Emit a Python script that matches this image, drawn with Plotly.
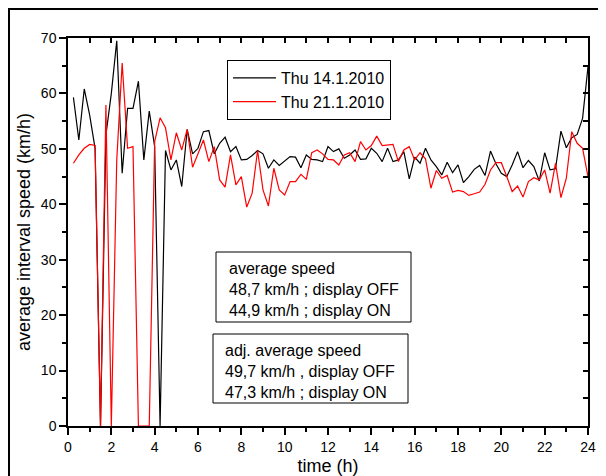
import plotly.graph_objects as go

hours = [i * 0.25 for i in range(1, 97)]

speed_thu_14 = [
    59.3, 51.6, 60.8, 56.1,
    50.1, 0.0, 52.5, 60.0,
    69.5, 45.6, 57.3, 57.3,
    62.2, 48.0, 56.8, 50.4,
    0.0, 49.7, 46.2, 48.0,
    43.2, 53.5, 49.1, 50.1,
    53.1, 53.3, 49.1, 51.0,
    52.1, 49.5, 50.4, 48.0,
    48.1, 48.8, 49.7, 49.1,
    46.5, 48.0, 47.0, 47.8,
    48.6, 48.5, 46.6, 48.9,
    48.1, 48.0, 47.7, 50.4,
    49.5, 50.0, 48.3, 48.9,
    49.8, 48.1, 48.2, 50.1,
    49.2, 47.7, 50.1, 47.7,
    48.0, 49.5, 44.6, 48.5,
    47.4, 50.1, 48.0, 46.8,
    45.3, 47.6, 45.7, 47.1,
    43.9, 45.0, 46.3, 47.0,
    45.2, 49.6, 47.3, 45.6,
    45.0, 47.1, 49.5, 46.6,
    47.9, 46.8, 44.2, 49.3,
    46.2, 46.4, 53.2, 50.2,
    52.0, 52.6, 55.5, 64.8,
]

speed_thu_21 = [
    47.4, 48.9, 50.1, 50.8,
    50.6, 0.0, 57.9, 0.0,
    48.0, 65.5, 50.1, 50.4,
    0.0, 0.0, 0.0, 51.3,
    55.6, 53.8, 48.0, 52.9,
    49.8, 53.5, 46.7, 49.1,
    51.6, 47.7, 50.4, 44.4,
    43.1, 48.9, 43.5, 45.0,
    39.5, 42.0, 49.7, 42.6,
    39.7, 46.5, 42.6, 41.7,
    44.1, 44.1, 45.4, 44.5,
    49.3, 49.8, 49.1, 48.1,
    48.0, 47.1, 48.9, 49.3,
    47.7, 51.3, 49.8, 50.6,
    52.3, 50.6, 50.7, 50.8,
    47.7, 49.8, 50.4, 48.0,
    49.3, 48.2, 42.9, 46.1,
    44.7, 45.2, 42.2, 42.5,
    42.3, 41.6, 41.9, 42.2,
    43.6, 46.2, 47.5, 47.5,
    45.0, 42.3, 43.3, 41.3,
    44.1, 44.8, 44.4, 46.2,
    42.0, 47.4, 41.2, 44.7,
    53.1, 51.0, 50.1, 45.0,
]

series_names = ["Thu 14.1.2010", "Thu 21.1.2010"]
box1_lines = ["average speed", "48,7 km/h ; display OFF", "44,9 km/h ; display ON"]
box2_lines = ["adj. average speed", "49,7 km/h , display OFF", "47,3 km/h ; display ON"]

FONT = "Liberation Sans, Arial, Helvetica, sans-serif"

fig = go.Figure()
fig.add_trace(go.Scatter(x=hours, y=speed_thu_14, mode="lines", name=series_names[0],
                         line=dict(color="black", width=1.2)))
fig.add_trace(go.Scatter(x=hours, y=speed_thu_21, mode="lines", name=series_names[1],
                         line=dict(color="#ff0000", width=1.2)))
# helper (empty) trace so the mirrored top/right axes are drawn
fig.add_trace(go.Scatter(x=[], y=[], xaxis="x2", yaxis="y2", showlegend=False, hoverinfo="skip"))

# the page body has an 8px margin, so the figure is 8px smaller than the window
BODY = 8
W, H = 606 - BODY, 476 - BODY
L, R, T, B = 68 - BODY, 18, 38 - BODY, 50
pw, ph = W - L - R, H - T - B
PLOT_LEFT = BODY + L          # page px
PLOT_BOTTOM = BODY + H - B    # page px


def px(x):
    return (x - PLOT_LEFT) / pw


def py(y):
    return (PLOT_BOTTOM - y) / ph


axis_common = dict(showline=True, linecolor="black", linewidth=1.5, showgrid=False, zeroline=False,
                   automargin=False,
                   tickcolor="black", tickwidth=1.5, tickfont=dict(family=FONT, size=14, color="black"))

fig.update_layout(
    width=W, height=H,
    margin=dict(l=L, r=R, t=T, b=B, autoexpand=False),
    paper_bgcolor="white", plot_bgcolor="white",
    font=dict(family=FONT, color="black"),
    xaxis=dict(range=[0, 24], dtick=2, tick0=0, ticks="outside", ticklen=7,
               minor=dict(dtick=1, ticks="outside", ticklen=4, tickcolor="black", tickwidth=1.5),
               title=dict(text="time (h)", font=dict(family=FONT, size=18), standoff=6),
               **axis_common),
    yaxis=dict(range=[0, 70], dtick=10, tick0=0, ticks="outside", ticklen=7,
               minor=dict(dtick=5, ticks="outside", ticklen=4, tickcolor="black", tickwidth=1.5),
               title=dict(text="average interval speed (km/h)", font=dict(family=FONT, size=18), standoff=6),
               **axis_common),
    xaxis2=dict(range=[0, 24], overlaying="x", side="top", showline=True, linecolor="black", linewidth=1.5,
                ticks="inside", dtick=1, ticklen=5, tickwidth=1.5, tickcolor="black", automargin=False,
                showticklabels=False, showgrid=False, zeroline=False),
    yaxis2=dict(range=[0, 70], overlaying="y", side="right", showline=True, linecolor="black", linewidth=1.5,
                ticks="inside", dtick=5, ticklen=5, tickwidth=1.5, tickcolor="black", automargin=False,
                showticklabels=False, showgrid=False, zeroline=False),
    legend=dict(x=px(227), y=py(60), xanchor="left", yanchor="top",
                bordercolor="black", borderwidth=1, bgcolor="white", itemwidth=43,
                font=dict(family=FONT, size=16, color="black"), tracegroupgap=0),
    showlegend=True,
)

shapes = [
    # outer frame
    dict(type="rect", xref="paper", yref="paper", x0=px(9), y0=py(500), x1=px(630), y1=py(9),
         line=dict(color="black", width=2), fillcolor="rgba(0,0,0,0)", layer="above"),
    dict(type="rect", xref="paper", yref="paper", x0=px(216), x1=px(411), y0=py(322), y1=py(252),
         line=dict(color="black", width=1), fillcolor="white", layer="above"),
    dict(type="rect", xref="paper", yref="paper", x0=px(213), x1=px(408), y0=py(403), y1=py(334),
         line=dict(color="black", width=1), fillcolor="white", layer="above"),
]
fig.update_layout(shapes=shapes)

fig.add_annotation(xref="paper", yref="paper", x=px(227), y=py(289), xanchor="left", yanchor="middle",
                   text="<br>".join(box1_lines), align="left", showarrow=False,
                   font=dict(family=FONT, size=16, color="black"))
fig.add_annotation(xref="paper", yref="paper", x=px(223), y=py(371), xanchor="left", yanchor="middle",
                   text="<br>".join(box2_lines), align="left", showarrow=False,
                   font=dict(family=FONT, size=16, color="black"))

fig.write_html("out.html")
